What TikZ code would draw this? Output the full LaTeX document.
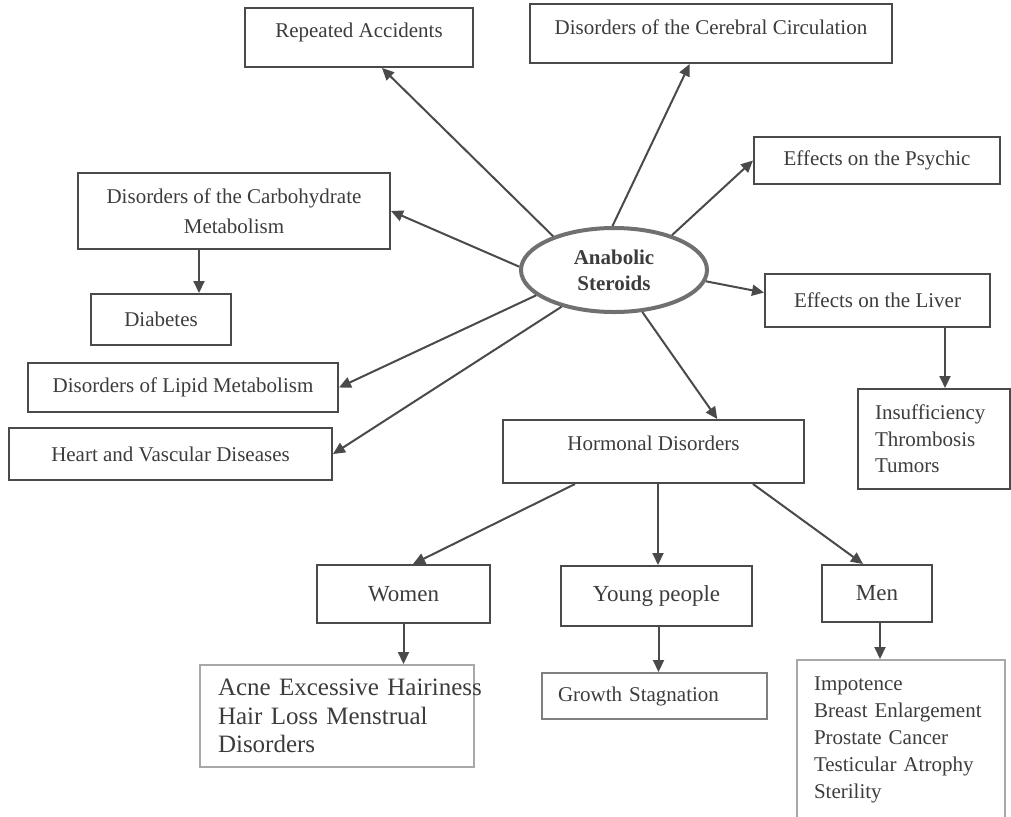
\documentclass[tikz,border=0pt]{standalone}
\usepackage{fontspec}
\setmainfont{Liberation Serif}
\usetikzlibrary{arrows.meta,shapes.geometric}
\definecolor{txtgray}{HTML}{3C3C3C}
\definecolor{linegray}{HTML}{4A4A4A}
\definecolor{palegray}{HTML}{A8A8A8}
\definecolor{ringgray}{HTML}{707070}
\tikzset{
  box/.style={draw=linegray, line width=1pt, inner sep=0pt, text=txtgray, font=\fontsize{10.5}{13}\selectfont},
  pale/.style={box, draw=palegray},
  arr/.style={draw=linegray, line width=1pt, -{Triangle[length=6pt,width=5.5pt]}},
}

\begin{document}
\begin{tikzpicture}[x=0.5pt,y=-0.5pt]
\useasboundingbox (0,0) rectangle (1011,816);
% centre
\node[ellipse, draw=ringgray, line width=2pt, minimum width=93pt, minimum height=42pt, inner sep=0pt, text=txtgray, align=center, font=\fontsize{10.5}{13}\selectfont\bfseries] (as) at (614,270) {Anabolic\\Steroids};
% boxes round the centre
\node[box, minimum width=114pt, minimum height=29.5pt, text depth=7.5pt] (ra) at (359,37.5) {Repeated Accidents};
\node[box, minimum width=181pt, minimum height=29.5pt, text depth=6pt] (cc) at (711,33.5) {Disorders of the Cerebral Circulation};
\node[box, minimum width=123pt, minimum height=23.5pt] (ps) at (877,160.5) {Effects on the Psychic};
\node[box, minimum width=156pt, minimum height=38pt, align=center, font=\fontsize{10.5}{15}\selectfont] (cb) at (234,211) {Disorders of the Carbohydrate\\Metabolism};
\node[box, minimum width=70pt, minimum height=25.5pt] (db) at (161,319.5) {Diabetes};
\node[box, minimum width=112.5pt, minimum height=26.5pt] (lv) at (877.5,300.5) {Effects on the Liver};
\node[box, minimum height=50pt, inner xsep=8.5pt, text width=59pt, align=left, font=\fontsize{10.5}{13.25}\selectfont] (in) at (934,439) {Insufficiency\\Thrombosis\\Tumors};
\node[box, minimum width=155pt, minimum height=24.5pt] (lp) at (183,387.5) {Disorders of Lipid Metabolism};
\node[box, minimum width=161.5pt, minimum height=26pt] (hv) at (170.5,454) {Heart and Vascular Diseases};
\node[box, minimum width=150.5pt, minimum height=31.5pt, text depth=8.5pt] (hd) at (653.5,451.5) {Hormonal Disorders};
% the three groups
\node[box, minimum width=86.5pt, minimum height=29pt, font=\fontsize{11.5}{14}\selectfont] (wm) at (403.5,594) {Women};
\node[box, minimum width=95.5pt, minimum height=30pt, font=\fontsize{11.5}{14}\selectfont] (yp) at (656.5,596) {Young people};
\node[box, minimum width=55pt, minimum height=28.5pt, font=\fontsize{11.5}{14}\selectfont] (mn) at (877,593.5) {Men};
\node[pale, minimum height=51pt, inner xsep=9pt, text width=119pt, align=left, font=\fontsize{12.5}{14.25}\selectfont] (ac) at (337,716) {\mbox{Acne Excessive Hairiness}\\\mbox{Hair Loss Menstrual}\\Disorders};
\node[pale, draw=gray, minimum height=23pt, inner xsep=8pt, text width=96.5pt, align=left] (gs) at (654.5,696) {Growth Stagnation};
\node[pale, minimum height=80pt, inner xsep=8.5pt, text width=87pt, align=left, font=\fontsize{10.5}{13.5}\selectfont] (ml) at (901,740) {Impotence\\Breast Enlargement\\Prostate Cancer\\Testicular Atrophy\\Sterility};
% arrows out of the centre
\draw[arr] (as.151) -- (ra.-53.3);
\draw[arr] (as.92) -- (cc.-125.4);
\draw[arr] (as.31) -- (ps.west);
\draw[arr] (as.178) -- (cb.east);
\draw[arr] (as.-7.4) -- (lv.176.2);
\draw[arr] (as.198) -- (lp.east);
\draw[arr] (as.215) -- (hv.east);
\draw[arr] (as.-56) -- (hd.27.9);
% arrows further down
\draw[arr] ([xshift=-17.5pt]cb.south) -- ([xshift=-17.5pt]cb.south |- db.north);
\draw[arr] ([xshift=33.75pt]lv.south) -- ([xshift=33.75pt]lv.south |- in.north);
\draw[arr] ([xshift=-39.25pt]hd.south) -- ([xshift=4.75pt]wm.north);
\draw[arr] ([xshift=2.25pt]hd.south) -- ([xshift=2.25pt]hd.south |- yp.north);
\draw[arr] ([xshift=49.75pt]hd.south) -- ([xshift=-7pt]mn.north);
\draw[arr] (wm.south) -- (wm.south |- ac.north);
\draw[arr] ([xshift=1pt]yp.south) -- ([xshift=1pt]yp.south |- gs.north);
\draw[arr] ([xshift=1.5pt]mn.south) -- ([xshift=1.5pt]mn.south |- ml.north);
\end{tikzpicture}
\end{document}
